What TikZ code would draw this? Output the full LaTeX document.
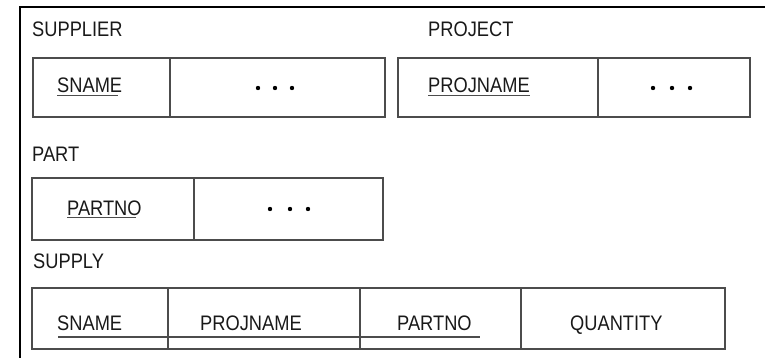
\documentclass[tikz,border=0pt]{standalone}
\usepackage{fontspec}
\setmainfont{Liberation Sans}
\newcommand{\cond}[1]{\scalebox{0.87}[1]{#1}}
\begin{document}
\begin{tikzpicture}[x=1pt,y=-1pt,
  frame/.style={line width=2.6pt,black},
  box/.style={draw=black!70,line width=1.4pt},
  txt/.style={anchor=base west,inner sep=0pt,font=\fontsize{21}{22}\selectfont,text=black!90},
  uline/.style={draw=black!70,line width=1.4pt},
  dot/.style={fill=black}]
\useasboundingbox (0,0) rectangle (765,358);
% outer frame
\draw[frame] (20,358) -- (20,7) -- (765,7);
% SUPPLIER
\node[txt] (supl) at (32,37) {\cond{SUPPLIER}};
\draw[box] (33,58) rectangle (385,117);
\draw[box] (170,58) -- (170,117);
\node[txt] (sname1) at (57,93) {\cond{SNAME}};
\draw[uline] ([yshift=-2.5pt]sname1.base west) -- ([yshift=-2.5pt,xshift=-4pt]sname1.base east);
\foreach \x in {258,275,292} \fill[dot] (\x,88) circle (2.2);
% PROJECT
\node[txt] (proj) at (428,37) {\cond{PROJECT}};
\draw[box] (398,58) rectangle (750,117);
\draw[box] (598,58) -- (598,117);
\node[txt] (pname1) at (428,93) {\cond{PROJNAME}};
\draw[uline] ([yshift=-2.5pt]pname1.base west) -- ([yshift=-2.5pt]pname1.base east);
\foreach \x in {653,672,690} \fill[dot] (\x,88) circle (2.2);
% PART
\node[txt] (part) at (32,162) {\cond{PART}};
\draw[box] (32,178) rectangle (383,240);
\draw[box] (194,178) -- (194,240);
\node[txt] (pno1) at (67,215) {\cond{PARTNO}};
\draw[uline] ([yshift=-2.5pt]pno1.base west) -- ([yshift=-2.5pt,xshift=-6pt]pno1.base east);
\foreach \x in {270,290,308} \fill[dot] (\x,209) circle (2.2);
% SUPPLY
\node[txt] (supp) at (33,268) {\cond{SUPPLY}};
\draw[box] (32,288) rectangle (725,349);
\draw[box] (168,288) -- (168,349);
\draw[box] (360,288) -- (360,349);
\draw[box] (521,288) -- (521,349);
\node[txt] (sname2) at (57,330) {\cond{SNAME}};
\node[txt] (pname2) at (200,330) {\cond{PROJNAME}};
\node[txt] (pno2) at (397,330) {\cond{PARTNO}};
\node[txt] (qty) at (570,330) {\cond{QUANTITY}};
\draw[uline] (58,337) -- (480,337);
\end{tikzpicture}
\end{document}
